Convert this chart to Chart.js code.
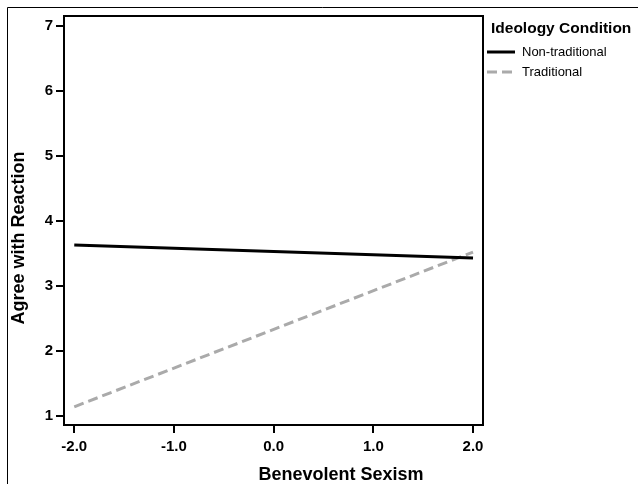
<!DOCTYPE html>
<html>
<head>
<meta charset="utf-8">
<script src="https://cdn.jsdelivr.net/npm/chart.js@4"></script>
<style>
  html, body { margin: 0; padding: 0; background: #fff; }
  #wrap { width: 638px; height: 484px; position: relative; }
</style>
</head>
<body>
<div id="wrap"><canvas id="c" width="638" height="484"></canvas></div>
<script>
// ---- data ----
const xValues = [-2, 2];
const nonTraditional = [3.63, 3.43];
const traditional = [1.14, 3.52];
const seriesLabels = ['Non-traditional', 'Traditional'];
const xTicks = [-2, -1, 0, 1, 2];
const yTicks = [1, 2, 3, 4, 5, 6, 7];
const xTitle = 'Benevolent Sexism';
const yTitle = 'Agree with Reaction';
const legendTitle = 'Ideology Condition';

const FONT = '"Liberation Sans", Arial, sans-serif';

const toPts = (ys) => xValues.map((x, i) => ({ x: x, y: ys[i] }));

const decor = {
  id: 'decor',
  afterDraw(chart) {
    const ctx = chart.ctx;
    const a = chart.chartArea;
    ctx.save();
    // outer frame
    ctx.strokeStyle = '#000';
    ctx.lineWidth = 1;
    ctx.beginPath();
    ctx.moveTo(7.5, 484);
    ctx.lineTo(7.5, 7.5);
    ctx.lineTo(638, 7.5);
    ctx.stroke();
    // plot frame
    ctx.lineWidth = 2;
    ctx.strokeRect(a.left, a.top, a.right - a.left, a.bottom - a.top);
    // axis titles
    ctx.fillStyle = '#000';
    ctx.font = 'bold 18px ' + FONT;
    ctx.textAlign = 'center';
    ctx.textBaseline = 'middle';
    ctx.fillText(xTitle, 341, 475);
    ctx.save();
    ctx.translate(19, 238);
    ctx.rotate(-Math.PI / 2);
    ctx.fillText(yTitle, 0, 0);
    ctx.restore();
    // legend
    ctx.textAlign = 'left';
    ctx.font = 'bold 15.5px ' + FONT;
    ctx.fillText(legendTitle, 491, 29);
    ctx.font = '13px ' + FONT;
    const rows = [52, 72];
    chart.data.datasets.forEach((ds, i) => {
      const y = rows[i];
      ctx.beginPath();
      ctx.strokeStyle = ds.borderColor;
      ctx.lineWidth = ds.borderWidth;
      ctx.setLineDash(ds.borderDash || []);
      ctx.moveTo(487, y);
      ctx.lineTo(515, y);
      ctx.stroke();
      ctx.setLineDash([]);
      ctx.fillStyle = '#000';
      ctx.fillText(ds.label, 522, y);
    });
    ctx.restore();
  }
};

new Chart(document.getElementById('c'), {
  type: 'line',
  data: {
    datasets: [
      {
        label: seriesLabels[0],
        data: toPts(nonTraditional),
        borderColor: '#000000',
        borderWidth: 3,
        pointRadius: 0,
        fill: false
      },
      {
        label: seriesLabels[1],
        data: toPts(traditional),
        borderColor: '#aaaaaa',
        borderWidth: 3,
        borderDash: [10, 5],
        pointRadius: 0,
        fill: false
      }
    ]
  },
  options: {
    responsive: false,
    animation: false,
    devicePixelRatio: 1,
    layout: { padding: { left: 0, top: 16, right: 155, bottom: 0 } },
    plugins: { legend: { display: false }, tooltip: { enabled: false } },
    scales: {
      x: {
        type: 'linear',
        min: -2.103,
        max: 2.1,
        afterFit(s) { s.height = 59; },
        afterBuildTicks(s) { s.ticks = xTicks.map(v => ({ value: v })); },
        grid: { display: true, drawOnChartArea: false, drawTicks: true, tickLength: 8, color: '#000', lineWidth: 2 },
        border: { display: true, color: '#000', width: 2 },
        ticks: {
          color: '#000',
          padding: 5,
          maxRotation: 0,
          font: { family: FONT, size: 15, weight: 'bold' },
          callback: (v) => Number(v).toFixed(1)
        }
      },
      y: {
        type: 'linear',
        min: 0.86,
        max: 7.15,
        afterFit(s) { s.width = 64; },
        afterBuildTicks(s) { s.ticks = yTicks.map(v => ({ value: v })); },
        grid: { display: true, drawOnChartArea: false, drawTicks: true, tickLength: 8, color: '#000', lineWidth: 2 },
        border: { display: true, color: '#000', width: 2 },
        ticks: {
          color: '#000',
          padding: 3,
          font: { family: FONT, size: 15, weight: 'bold' },
          callback: (v) => String(v)
        }
      }
    }
  },
  plugins: [decor]
});
</script>
</body>
</html>
